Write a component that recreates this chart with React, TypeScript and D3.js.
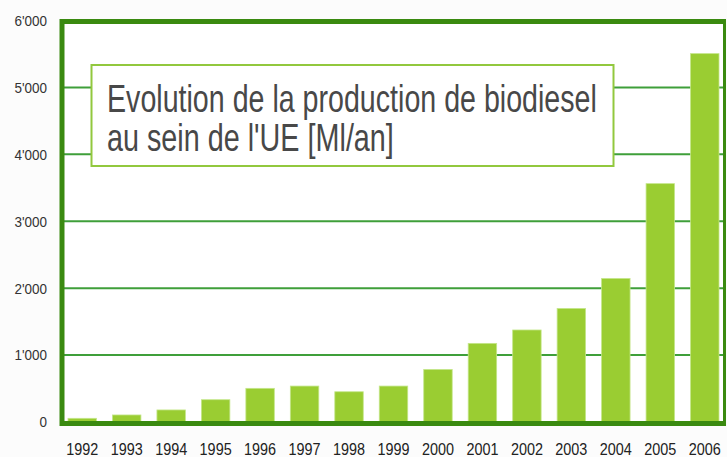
import React from "react";
import * as d3 from "d3";

const years = ["1992","1993","1994","1995","1996","1997","1998","1999","2000","2001","2002","2003","2004","2005","2006"];
const production = [55, 105, 180, 333, 503, 537, 452, 537, 785, 1175, 1375, 1697, 2145, 3562, 5505];
const yTicks = [0, 1000, 2000, 3000, 4000, 5000, 6000];
const yTickLabels = ["0", "1'000", "2'000", "3'000", "4'000", "5'000", "6'000"];
const titleLines = ["Evolution de la production de biodiesel", "au sein de l'UE [Ml/an]"];
const titleWidths = [490, 287];

const W = 727, H = 457;
const FONT = "'Liberation Sans', Arial, sans-serif";

function measure(text: string, size: number): number {
  const c = document.createElement("canvas").getContext("2d");
  if (!c) return text.length * size * 0.5;
  c.font = `${size}px 'Liberation Sans', Arial, sans-serif`;
  return c.measureText(text).width;
}

export default function App() {
  const x = d3.scaleBand<string>().domain(years).range([60, 727]).paddingInner(0.36).paddingOuter(0.18);
  const y = d3.scaleLinear().domain([0, 6000]).range([422, 20.5]);
  const frameColor = "#3a8a10";
  const gridColor = "#3f9f3a";
  const barColor = "#9acd32";
  const titleSize = 38;

  return (
    <svg width={W} height={H} style={{ position: "absolute", left: 0, top: 0, background: "#fcfcfc" }}>
      <rect x={62} y={21} width={661} height={401} fill="#ffffff" />
      {yTicks.slice(1, -1).map(t => (
        <line key={t} x1={62} x2={723} y1={y(t)} y2={y(t)} stroke={gridColor} strokeWidth={2} />
      ))}
      {years.map((yr, i) => (
        <rect key={yr} x={x(yr)} y={y(production[i])} width={x.bandwidth()} height={y(0) - y(production[i])}
          fill={barColor} stroke="#c4e68a" strokeWidth={0.8} />
      ))}
      {/* frame */}
      <line x1={62} x2={62} y1={19} y2={426} stroke={frameColor} strokeWidth={5} />
      <line x1={60} x2={726} y1={21.5} y2={21.5} stroke={frameColor} strokeWidth={5} />
      <line x1={60} x2={726} y1={423.5} y2={423.5} stroke={frameColor} strokeWidth={5} />
      <line x1={724.5} x2={724.5} y1={19} y2={426} stroke={frameColor} strokeWidth={3} />
      {/* y labels */}
      {yTicks.map((t, i) => (
        <text key={t} x={47} y={y(t)} dy="0.36em" textAnchor="end" fontSize={15}
          fontFamily={FONT} fill="#333333" transform={`translate(${47 * 0.1},0) scale(0.9,1)`}>{yTickLabels[i]}</text>
      ))}
      {/* x labels */}
      {years.map(yr => {
        const cx = (x(yr) as number) + x.bandwidth() / 2;
        return (
          <text key={yr} x={cx} y={455} textAnchor="middle" fontSize={16}
            fontFamily={FONT} fill="#222222" transform={`translate(${cx * 0.1},0) scale(0.9,1)`}>{yr}</text>
        );
      })}
      {/* title box */}
      <rect x={91.5} y={65} width={522} height={101} fill="#ffffff" stroke="#92c83e" strokeWidth={2} />
      {titleLines.map((l, i) => {
        const sx = titleWidths[i] / measure(l, titleSize);
        return (
          <text key={i} x={0} y={0} fontSize={titleSize} fontFamily={FONT} fill="#484848"
            transform={`translate(107,${112 + i * 39}) scale(${sx},1)`}>{l}</text>
        );
      })}
    </svg>
  );
}
